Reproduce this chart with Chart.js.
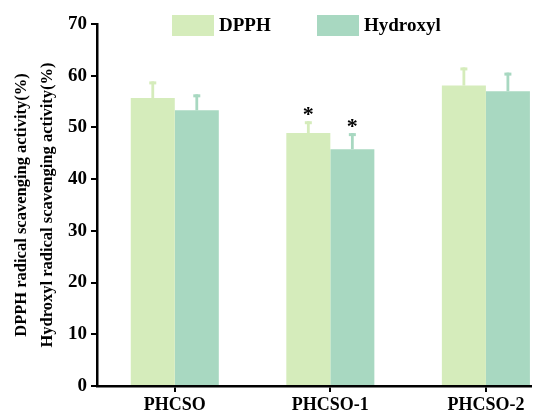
<!DOCTYPE html>
<html>
<head>
<meta charset="utf-8">
<script src="https://cdn.jsdelivr.net/npm/chart.js@4"></script>
<style>
  html, body { margin: 0; padding: 0; background: #fff; overflow: hidden; }
</style>
</head>
<body>
<canvas id="myChart" width="542" height="414"></canvas>
<script>
var categories = ['PHCSO', 'PHCSO-1', 'PHCSO-2'];
var dpph = [55.7, 48.9, 58.1];
var dpphErr = [3.2, 2.3, 3.5];
var dpphSig = ['', '*', ''];
var hydroxyl = [53.3, 45.8, 57.0];
var hydroxylErr = [3.1, 3.1, 3.6];
var hydroxylSig = ['', '*', ''];
var yTicks = [0, 10, 20, 30, 40, 50, 60, 70];

function points(values) {
  return values.map(function (v, i) { return { x: i, y: v }; });
}

Chart.defaults.font.family = "'Liberation Serif', 'Times New Roman', serif";
Chart.defaults.font.weight = 'bold';
Chart.defaults.color = '#000';

// error bars + significance marks, drawn on top of each bar
var errorBars = {
  id: 'errorBars',
  afterDatasetsDraw: function (chart) {
    var ctx = chart.ctx;
    var yScale = chart.scales.y;
    chart.data.datasets.forEach(function (ds, di) {
      var meta = chart.getDatasetMeta(di);
      meta.data.forEach(function (bar, i) {
        var top = yScale.getPixelForValue(ds.data[i].y + ds.errors[i]);
        ctx.save();
        ctx.fillStyle = ds.backgroundColor;
        ctx.fillRect(bar.x - 1.4, top, 2.8, bar.y - top);
        ctx.fillRect(bar.x - 3.5, top, 7, 3);
        if (ds.sig[i]) {
          ctx.fillStyle = '#000';
          ctx.font = "bold 22px 'Liberation Serif'";
          ctx.textAlign = 'center';
          ctx.textBaseline = 'middle';
          ctx.fillText(ds.sig[i], bar.x, top - 6);
        }
        ctx.restore();
      });
    });
  }
};

var topLegend = {
  id: 'topLegend',
  afterDraw: function (chart) {
    var ctx = chart.ctx;
    var xs = [172, 317];
    ctx.save();
    chart.data.datasets.forEach(function (ds, i) {
      ctx.fillStyle = ds.backgroundColor;
      ctx.fillRect(xs[i], 15, 42, 21);
      ctx.fillStyle = '#000';
      ctx.font = "bold 19px 'Liberation Serif'";
      ctx.textBaseline = 'middle';
      ctx.fillText(ds.label, xs[i] + 47, 26);
    });
    ctx.restore();
  }
};

var ctx = document.getElementById('myChart').getContext('2d');
var myChart = new Chart(ctx, {
  type: 'bar',
  data: {
    datasets: [{
      label: 'DPPH',
      data: points(dpph),
      errors: dpphErr,
      sig: dpphSig,
      backgroundColor: '#d5ecbb'
    },
    {
      label: 'Hydroxyl',
      data: points(hydroxyl),
      errors: hydroxylErr,
      sig: hydroxylSig,
      backgroundColor: '#a8d8c1'
    }]
  },
  options: {
    responsive: false,
    animation: false,
    categoryPercentage: 0.566,
    barPercentage: 1,
    layout: { padding: { top: 24, right: 11, left: 0, bottom: 0 } },
    plugins: {
      legend: { display: false },
      tooltip: { enabled: false }
    },
    scales: {
      x: {
        type: 'linear',
        min: -0.5,
        max: 2.29,
        offset: false,
        afterBuildTicks: function (s) {
          s.ticks = categories.map(function (c, i) { return { value: i }; });
        },
        afterFit: function (s) { s.height = 28; },
        ticks: {
          callback: function (v) { return categories[v]; },
          font: { size: 18 },
          padding: 3,
          maxRotation: 0,
          autoSkip: false
        },
        grid: { drawOnChartArea: false, tickLength: 6, color: '#000', lineWidth: 2, offset: false },
        border: { color: '#000', width: 2.5 }
      },
      y: {
        min: 0,
        max: 70,
        afterBuildTicks: function (s) {
          s.ticks = yTicks.map(function (v) { return { value: v }; });
        },
        afterFit: function (s) { s.width = 97; },
        ticks: { font: { size: 19 }, padding: 4 },
        grid: { drawOnChartArea: false, tickLength: 6, color: '#000', lineWidth: 2 },
        border: { color: '#000', width: 2.5 },
        title: {
          display: true,
          text: ['DPPH radical scavenging activity(%)', 'Hydroxyl radical scavenging activity(%)'],
          font: { size: 16.5, lineHeight: 1.58 },
          padding: { top: 9, bottom: 0 }
        }
      }
    }
  },
  plugins: [errorBars, topLegend]
});
</script>
</body>
</html>
